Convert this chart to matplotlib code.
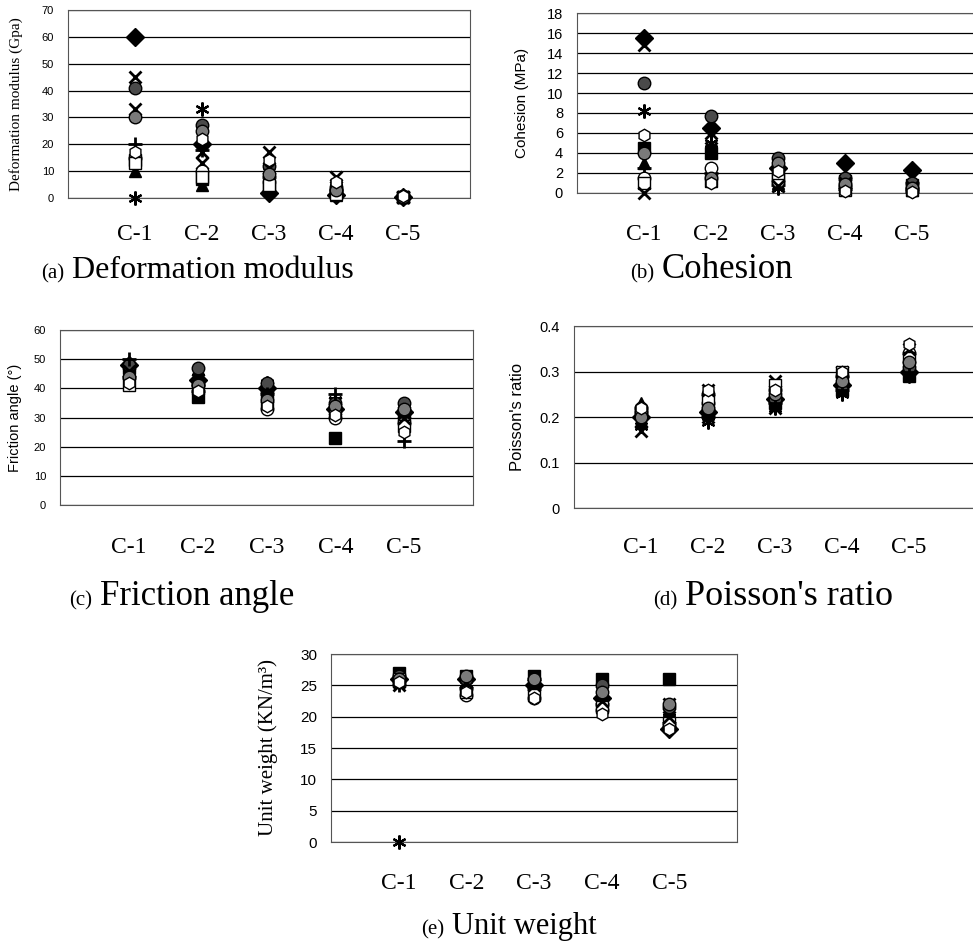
import numpy as np
import matplotlib
matplotlib.use('agg')
import matplotlib.pyplot as plt

# 岩体等级
classes = ['C-1', 'C-2', 'C-3', 'C-4', 'C-5']

# 每行一个系列（各测点），每列一个等级
deform = [
    [60, 20, 2, 1, 0.3],
    [14, 7, 3, 2, 0.5],
    [10, 5, 3, 1, 0.2],
    [33, 13, 17, 8, 0.5],
    [0, 33, 10, 4, 0.3],
    [41, 27, 12, 4, 0.6],
    [20, 18, 8, 3, 0.4],
    [15, 10, 6, 2, 0.4],
    [13, 8, 5, 1.5, 0.3],
    [45, 17, 11, 5, 0.3],
    [30, 25, 9, 3, 0.5],
    [17, 22, 14, 6, 0.8],
]
cohesion = [
    [15.5, 6.5, 2.5, 3.0, 2.3],
    [4.5, 4.0, 1.5, 1.2, 0.8],
    [3.0, 1.5, 1.0, 0.5, 0.3],
    [14.8, 6.0, 1.5, 0.8, 0.5],
    [8.2, 5.0, 0.5, 0.3, 0.2],
    [11.0, 7.7, 3.5, 1.5, 1.0],
    [2.5, 2.0, 0.8, 0.4, 0.2],
    [1.5, 2.5, 1.2, 0.6, 0.4],
    [1.0, 1.2, 2.0, 0.3, 0.3],
    [0.0, 4.5, 0.7, 1.0, 0.6],
    [4.0, 1.5, 3.0, 0.9, 0.5],
    [5.8, 1.0, 2.2, 0.2, 0.1],
]
friction = [
    [48, 43, 40, 33, 32],
    [47, 37, 39, 23, 31],
    [46, 40, 41, 34, 33],
    [45, 42, 40, 35, 32],
    [47, 44, 42, 36, 31],
    [48, 47, 42, 35, 35],
    [50, 39, 38, 38, 22],
    [44, 41, 33, 30, 28],
    [41, 40, 35, 32, 27],
    [46, 43, 37, 33, 30],
    [44, 41, 36, 34, 33],
    [42, 39, 34, 31, 25],
]
poisson = [
    [0.20, 0.21, 0.24, 0.27, 0.30],
    [0.21, 0.21, 0.23, 0.26, 0.29],
    [0.23, 0.22, 0.25, 0.28, 0.30],
    [0.19, 0.20, 0.28, 0.30, 0.31],
    [0.18, 0.19, 0.22, 0.25, 0.29],
    [0.21, 0.23, 0.24, 0.27, 0.31],
    [0.20, 0.20, 0.23, 0.26, 0.30],
    [0.22, 0.25, 0.26, 0.29, 0.34],
    [0.21, 0.24, 0.27, 0.30, 0.33],
    [0.17, 0.26, 0.22, 0.28, 0.35],
    [0.20, 0.22, 0.25, 0.28, 0.32],
    [0.22, 0.26, 0.26, 0.30, 0.36],
]
unitw = [
    [26, 26, 25, 23, 18],
    [27, 26.5, 26.5, 26, 26],
    [26, 25.5, 25.5, 25, 21],
    [25.5, 25, 25, 24, 22],
    [0, 25, 24.5, 23.5, 20],
    [26.5, 26, 26, 25, 21.5],
    [25, 24.5, 24.5, 22, 19],
    [25.5, 23.5, 23, 21, 18.5],
    [26, 24, 23.5, 21.5, 19],
    [25, 25.5, 25, 22.5, 20],
    [26, 26.5, 26, 24, 22],
    [25.5, 24, 23, 20.5, 18],
]

# 各系列的标记样式（黑白印刷）
styles = [
    dict(marker='D', mfc='black', mec='black', ms=9),
    dict(marker='s', mfc='black', mec='black', ms=8),
    dict(marker='^', mfc='black', mec='black', ms=9),
    dict(marker='x', mec='black', mew=2, ms=9),
    dict(marker=(6, 2, 0), mec='black', mew=1.6, ms=10),
    dict(marker='o', mfc='#4a4a4a', mec='black', ms=9),
    dict(marker='+', mec='black', mew=2, ms=10),
    dict(marker='o', mfc='white', mec='black', ms=9),
    dict(marker='s', mfc='white', mec='black', ms=8),
    dict(marker='x', mec='black', mew=2, ms=9),
    dict(marker='o', mfc='#7a7a7a', mec='black', ms=9),
    dict(marker='h', mfc='white', mec='black', ms=9),
]

W, H = 973, 943
fig = plt.figure(figsize=(W / 100, H / 100), dpi=100)


def make_ax(l, r, t, b):
    return fig.add_axes([l / W, 1 - b / H, (r - l) / W, (b - t) / H])


def panel(ax, data, ymax, ystep, ylabel, yfont, ylsize, ticksize, xpad):
    x = np.arange(1, len(classes) + 1)
    for row, st in zip(data, styles):
        ax.plot(x, row, ls='none', **st, clip_on=False, zorder=3)
    ax.set_xlim(0, 6)
    ax.set_ylim(0, ymax)
    yt = np.arange(0, ymax + ystep / 2, ystep)
    ax.set_yticks(yt)
    ax.yaxis.grid(True, color='black', lw=0.9)
    ax.set_axisbelow(True)
    ax.set_xticks(x)
    ax.set_xticklabels(classes, family='Liberation Serif', fontsize=17)
    ax.tick_params(axis='x', length=0, pad=xpad)
    ax.tick_params(axis='y', length=0, pad=10, labelsize=ticksize)
    for lab in ax.get_yticklabels():
        lab.set_family('Liberation Sans')
    for s in ax.spines.values():
        s.set_color('#555555')
        s.set_linewidth(0.8)
    ax.set_ylabel(ylabel, family=yfont, fontsize=ylsize)


def caption(px, py, tag, name, size):
    # py 为基线位置
    fig.text((px - 8) / W, 1 - py / H, tag, ha='right', va='baseline',
             family='Liberation Serif', fontsize=15)
    fig.text(px / W, 1 - py / H, name, ha='left', va='baseline',
             family='Liberation Serif', fontsize=size)


ax = make_ax(68, 470, 10, 198)
panel(ax, deform, 70, 10, 'Deformation modulus (Gpa)', 'Liberation Serif', 11, 8, 19)
ax.yaxis.set_label_coords(-0.112, 0.5)
caption(72, 278, '(a)', 'Deformation modulus', 23)

ax = make_ax(577, 979, 13, 193)
panel(ax, cohesion, 18, 2, 'Cohesion (MPa)', 'Liberation Sans', 11, 10.5, 22)
ax.yaxis.set_label_coords(-0.119, 0.5)
caption(662, 278, '(b)', 'Cohesion', 25)

ax = make_ax(60, 473, 330, 505)
panel(ax, friction, 60, 10, 'Friction angle (°)', 'Liberation Sans', 10.5, 8, 23)
ax.yaxis.set_label_coords(-0.092, 0.5)
caption(100, 605, '(c)', 'Friction angle', 25)

ax = make_ax(574, 976, 326, 508)
panel(ax, poisson, 0.4, 0.1, "Poisson's ratio", 'Liberation Sans', 12, 10.5, 21)
ax.set_yticklabels(['0', '0.1', '0.2', '0.3', '0.4'])
ax.yaxis.set_label_coords(-0.122, 0.5)
caption(685, 605, '(d)', "Poisson's ratio", 26)

ax = make_ax(331, 737, 654, 842)
panel(ax, unitw, 30, 5, 'Unit weight (KN/m³)', 'Liberation Serif', 15, 11, 22)
ax.yaxis.set_label_coords(-0.13, 0.5)
caption(452, 934, '(e)', 'Unit weight', 22)

fig.savefig('out.png', dpi=100)
